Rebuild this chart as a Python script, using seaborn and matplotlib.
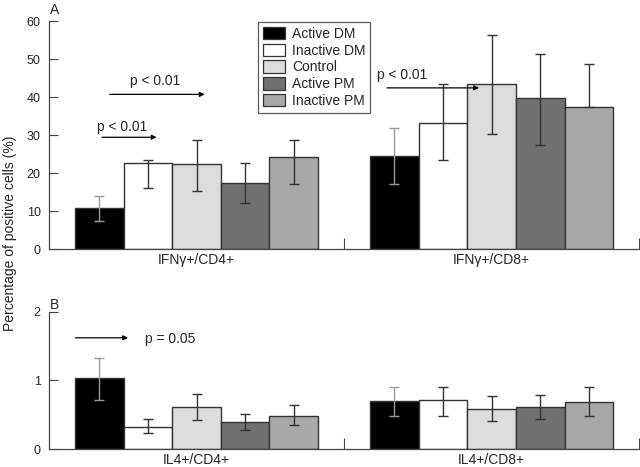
import seaborn as sns
from matplotlib import pyplot as plt
import pandas as pd
import numpy as np

groups = ["Active DM", "Inactive DM", "Control", "Active PM", "Inactive PM"]
colors = ["#000000", "#ffffff", "#dcdcdc", "#707070", "#a8a8a8"]

# panel A: IFNg
ifn_cats = ["IFN\u03b3+/CD4+", "IFN\u03b3+/CD8+"]
ifn_cd4 = [10.7, 22.6, 22.3, 17.5, 24.2]
ifn_cd4_lo = [7.3, 16.0, 15.3, 12.1, 17.1]
ifn_cd4_hi = [14.0, 23.4, 28.8, 22.6, 28.8]
ifn_cd8 = [24.5, 33.1, 43.4, 39.7, 37.5]
ifn_cd8_lo = [17.1, 23.3, 30.2, 27.5, 37.5]
ifn_cd8_hi = [31.8, 43.3, 56.4, 51.3, 48.8]

# panel B: IL4
il4_cats = ["IL4+/CD4+", "IL4+/CD8+"]
il4_cd4 = [1.03, 0.33, 0.62, 0.39, 0.49]
il4_cd4_lo = [0.72, 0.24, 0.43, 0.28, 0.35]
il4_cd4_hi = [1.33, 0.44, 0.80, 0.51, 0.65]
il4_cd8 = [0.70, 0.71, 0.59, 0.61, 0.69]
il4_cd8_lo = [0.48, 0.49, 0.41, 0.44, 0.49]
il4_cd8_hi = [0.905, 0.91, 0.775, 0.79, 0.905]

sns.set_style("white")
plt.rcParams["font.family"] = ["Liberation Sans", "DejaVu Sans"]

fig = plt.figure(figsize=(6.4, 4.67), dpi=100)
axA = fig.add_axes([0.0766, 0.4668, 0.922, 0.4882])
axB = fig.add_axes([0.0766, 0.0379, 0.922, 0.2947])


def panel(ax, cats, v1, lo1, hi1, v2, lo2, hi2, ymax, yticks):
    df = pd.DataFrame({
        "cat": [cats[0]] * 5 + [cats[1]] * 5,
        "group": groups * 2,
        "val": v1 + v2,
        "lo": lo1 + lo2,
        "hi": hi1 + hi2,
    })
    sns.barplot(data=df, x="cat", y="val", hue="group", hue_order=groups,
                palette=colors, width=0.824, errorbar=None, edgecolor="#333333",
                linewidth=1, saturation=1, ax=ax, legend=False)
    bars = list(ax.containers)
    for k, cont in enumerate(bars):
        sub = df[df["group"] == groups[k]]
        xs = [b.get_x() + b.get_width() / 2 for b in cont]
        vals = sub["val"].values
        err = [vals - sub["lo"].values, sub["hi"].values - vals]
        ec = "#9a9a9a" if k == 0 else "#333333"
        ax.errorbar(xs, vals, yerr=err, fmt="none", ecolor=ec, elinewidth=1,
                    capsize=3.5, capthick=1)
    ax.set_xlim(-0.5, 1.5)
    ax.set_ylim(0, ymax)
    ax.set_yticks(yticks)
    ax.set_xlabel("")
    ax.set_ylabel("")
    ax.set_xticks([0.5, 1.5], minor=True)
    ax.tick_params(axis="x", which="major", length=0, labelsize=10, pad=3)
    ax.tick_params(axis="x", which="minor", direction="in", length=8,
                   width=0.8, color="#444444", bottom=True)
    ax.tick_params(axis="y", direction="in", length=6.5, width=0.8,
                   color="#444444", labelsize=9, pad=6, left=True)
    for s in ["top", "right"]:
        ax.spines[s].set_visible(False)
    for s in ["left", "bottom"]:
        ax.spines[s].set_color("#444444")
        ax.spines[s].set_linewidth(0.9)


panel(axA, ifn_cats, ifn_cd4, ifn_cd4_lo, ifn_cd4_hi,
      ifn_cd8, ifn_cd8_lo, ifn_cd8_hi, 60, range(0, 61, 10))
panel(axB, il4_cats, il4_cd4, il4_cd4_lo, il4_cd4_hi,
      il4_cd8, il4_cd8_lo, il4_cd8_hi, 2, [0, 1, 2])

arrow = dict(arrowstyle="-|>", color="black", lw=0.9, mutation_scale=7)
axA.annotate("", xy=(0.037, 40.7), xytext=(-0.304, 40.7), arrowprops=arrow)
axA.text(-0.142, 44.2, "p < 0.01", ha="center", va="center", fontsize=10)
axA.annotate("", xy=(-0.126, 29.4), xytext=(-0.33, 29.4), arrowprops=arrow)
axA.text(-0.253, 32.0, "p < 0.01", ha="center", va="center", fontsize=10)
axA.annotate("", xy=(0.967, 42.4), xytext=(0.636, 42.4), arrowprops=arrow)
axA.text(0.698, 45.8, "p < 0.01", ha="center", va="center", fontsize=10)
axB.annotate("", xy=(-0.223, 1.62), xytext=(-0.42, 1.62), arrowprops=arrow)
axB.text(-0.175, 1.60, "p = 0.05", ha="left", va="center", fontsize=10)

handles = [plt.Rectangle((0, 0), 1, 1, facecolor=c, edgecolor="#333333", lw=0.9)
           for c in colors]
leg = axA.legend(handles, groups, loc="upper left", bbox_to_anchor=(0.354, 0.996),
                 fontsize=10, frameon=True, fancybox=False, edgecolor="#333333",
                 handlelength=1.6, handleheight=1.0, labelspacing=0.2,
                 handletextpad=0.5, borderpad=0.35, borderaxespad=0)
leg.get_frame().set_linewidth(0.9)

fig.text(0.078, 0.978, "A", fontsize=10, ha="left", va="center")
fig.text(0.078, 0.347, "B", fontsize=10, ha="left", va="center")
fig.text(0.016, 0.5, "Percentage of positive cells (%)", rotation=90,
         fontsize=10, ha="center", va="center")

fig.savefig("out.png", dpi=100)
